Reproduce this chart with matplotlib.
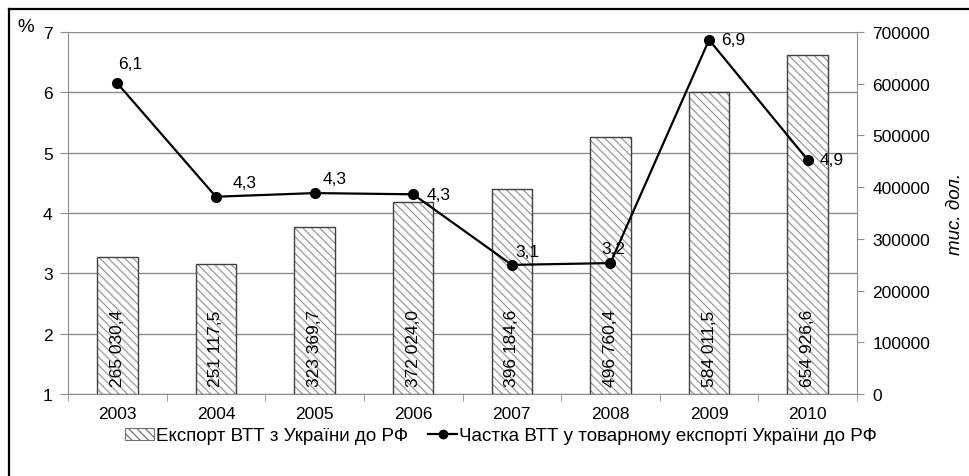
import matplotlib
matplotlib.use("Agg")
import matplotlib.pyplot as plt
from matplotlib.patches import Patch
from matplotlib.lines import Line2D

plt.rcParams['font.family'] = ['Liberation Sans', 'DejaVu Sans']
plt.rcParams['hatch.linewidth'] = 0.9

years = ['2003', '2004', '2005', '2006', '2007', '2008', '2009', '2010']
export_values = [265030.4, 251117.5, 323369.7, 372024.0, 396184.6, 496760.4, 584011.5, 654926.6]
share_values = [6.15, 4.27, 4.33, 4.31, 3.14, 3.17, 6.87, 4.88]
share_labels = ['6,1', '4,3', '4,3', '4,3', '3,1', '3,2', '6,9', '4,9']
left_ticks = [1, 2, 3, 4, 5, 6, 7]
right_ticks = [0, 100000, 200000, 300000, 400000, 500000, 600000, 700000]

bar_name = 'Експорт ВТТ з України до РФ'
line_name = 'Частка ВТТ у товарному експорті України до РФ'

W, H = 969, 477
fig = plt.figure(figsize=(W / 100, H / 100), dpi=100)
FS = 12.5
grey = '#8c8c8c'

x0, x1, ytop, ybot = 68, 857, 33, 395
rect = [x0 / W, (H - ybot) / H, (x1 - x0) / W, (ybot - ytop) / H]
ax1 = fig.add_axes(rect)
ax2 = ax1.twinx()
ax3 = ax1.twinx()

x = list(range(len(years)))

# left axis (%)
ax1.set_ylim(1, 7)
ax1.set_yticks(left_ticks)
ax1.set_yticklabels([str(t) for t in left_ticks], fontsize=FS)
ax1.set_xlim(-0.5, len(years) - 0.5)
ax1.set_xticks(x)
ax1.set_xticklabels(years, fontsize=FS)
ax1.set_xticks([i - 0.5 for i in range(len(years) + 1)], minor=True)
ax1.tick_params(axis='x', which='major', length=0, pad=9)
ax1.tick_params(axis='x', which='minor', length=5, color=grey, direction='out')
ax1.tick_params(axis='y', length=6, color=grey, direction='out', pad=5)
ax1.grid(axis='y', color=grey, linewidth=1.0)
ax1.set_axisbelow(True)
for s in ['left', 'bottom']:
    ax1.spines[s].set_color(grey)
for s in ['top', 'right']:
    ax1.spines[s].set_visible(False)

# right axis (bars)
ax2.set_ylim(0, 700000)
ax2.set_yticks(right_ticks)
ax2.set_yticklabels([str(t) for t in right_ticks], fontsize=FS)
ax2.tick_params(axis='y', length=5, color=grey, direction='out', pad=6)
ax2.spines['right'].set_color(grey)
for s in ['top', 'left', 'bottom']:
    ax2.spines[s].set_visible(False)
bw = 0.41
ax2.bar(x, export_values, width=bw, color='white', edgecolor='#9a9a9a',
        hatch='\\\\\\\\', linewidth=0)
ax2.bar(x, export_values, width=bw, fill=False, edgecolor='#404040', linewidth=1.0)
for xi, v in zip(x, export_values):
    lab = f"{v:,.1f}".replace(',', ' ').replace('.', ',')
    ax2.text(xi, 15500, lab, rotation=90, ha='center', va='bottom', fontsize=FS)
ax2.set_ylabel('тис. дол.', fontsize=13.5, style='italic', rotation=90, labelpad=12)

# line axis on top
ax3.set_ylim(1, 7)
ax3.set_xlim(-0.5, len(years) - 0.5)
ax3.set_yticks([])
for s in ax3.spines.values():
    s.set_visible(False)
ax3.plot(x, share_values, color='black', linewidth=1.6, marker='o', markersize=7)
offsets = [(1, 20), (17, 14), (8, 15), (13, 0), (4, 13), (-9, 15), (12, 0), (12, 0)]
for xi, v, lab, (dx, dy) in zip(x, share_values, share_labels, offsets):
    ax3.annotate(lab, (xi, v), xytext=(dx, dy), textcoords='offset pixels',
                 ha='left', va='center', fontsize=FS)

# "%" label
fig.text(17 / W, 1 - 27 / H, '%', fontsize=13.5, ha='left', va='center')

# legend
handles = [Patch(facecolor='white', edgecolor='#707070', hatch='\\\\\\\\', linewidth=0.8),
           Line2D([0], [0], color='black', linewidth=1.6, marker='o', markersize=6)]
fig.legend(handles, [bar_name, line_name], loc='center', ncol=2, frameon=False,
           bbox_to_anchor=(501 / W, 1 - 437 / H), fontsize=13.5, handlelength=1.5,
           handletextpad=0.12, columnspacing=1.1, handleheight=0.65)

# outer frame (left and top)
fig.add_artist(Line2D([9 / W, 9 / W], [0, 1 - 10 / H], color='black', linewidth=1.6,
                      transform=fig.transFigure))
fig.add_artist(Line2D([9 / W, 1], [1 - 10 / H, 1 - 10 / H], color='black', linewidth=1.6,
                      transform=fig.transFigure))

fig.savefig('out.png', dpi=100)
